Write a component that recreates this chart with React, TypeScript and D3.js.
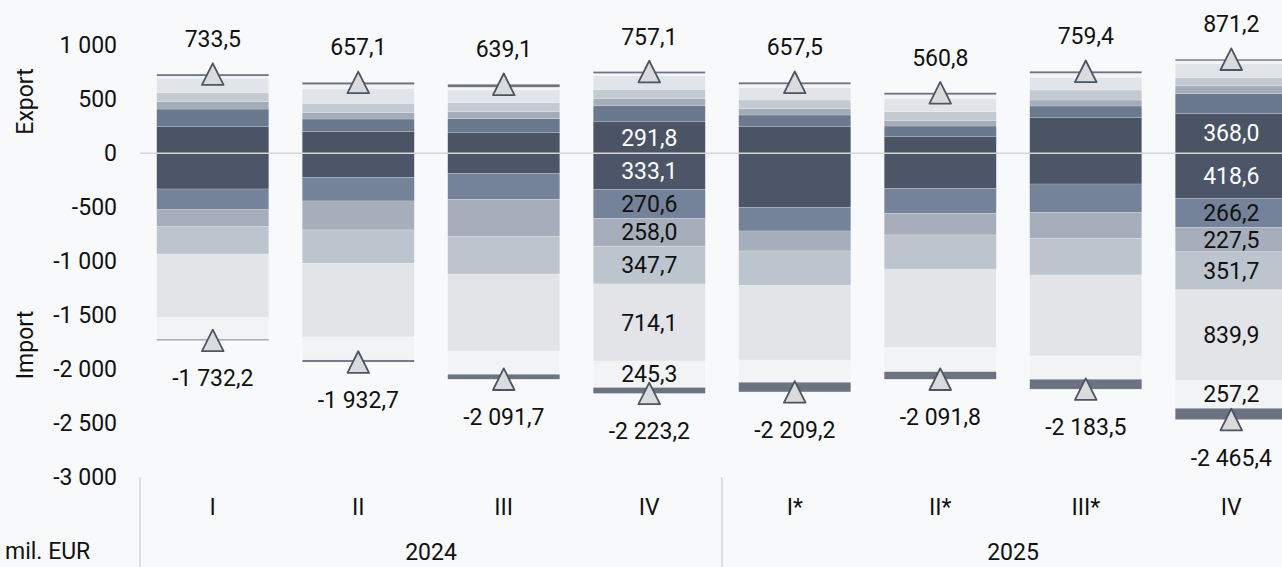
import React from "react";
import * as d3 from "d3";

// ---------- data ----------
const quarters = ["I", "II", "III", "IV", "I*", "II*", "III*", "IV"];
const years = ["2024", "2025"];
const quartersPerYear = 4;

const exportTotal = [733.5, 657.1, 639.1, 757.1, 657.5, 560.8, 759.4, 871.2];
const importTotal = [-1732.2, -1932.7, -2091.7, -2223.2, -2209.2, -2091.8, -2183.5, -2465.4];

// export components, stacked upward from zero
const exportG1 = [246.0, 200.0, 190.7, 291.8, 246.3, 153.7, 329.6, 368.0];
const exportG2 = [164.0, 117.6, 129.6, 148.0, 108.3, 99.0, 108.3, 185.2];
const exportG3 = [68.0, 58.0, 64.8, 68.5, 58.3, 49.0, 55.6, 71.3];
const exportG4 = [83.0, 87.0, 83.3, 79.6, 80.6, 83.3, 92.6, 76.9];
const exportG5 = [133.0, 139.0, 117.6, 129.6, 113.9, 124.0, 117.6, 129.6];
const exportG6 = [21.0, 35.0, 26.0, 22.0, 31.5, 33.3, 37.0, 25.0];
const exportG7 = [18.5, 20.5, 27.1, 17.6, 18.6, 18.5, 18.7, 15.2];

// import components, stacked downward from zero
const importG1 = [330.6, 222.0, 185.2, 333.1, 500.0, 324.0, 284.3, 418.6];
const importG2 = [191.7, 219.4, 240.7, 270.6, 219.4, 231.5, 262.0, 266.2];
const importG3 = [157.4, 268.5, 346.3, 258.0, 185.2, 201.0, 240.7, 227.5];
const importG4 = [252.8, 308.3, 345.4, 347.7, 317.6, 314.8, 339.8, 351.7];
const importG5 = [589.8, 682.4, 713.0, 714.1, 691.7, 728.7, 750.0, 839.9];
const importG6 = [200.0, 213.0, 215.7, 245.3, 206.5, 222.2, 215.7, 257.2];
const importG7 = [9.9, 19.1, 45.4, 54.4, 88.8, 69.6, 91.0, 104.3];

const yTicks = [1000, 500, 0, -500, -1000, -1500, -2000, -2500, -3000];
const labeledBars = [3, 7];

// ---------- styles ----------
const exportColors = ["#4a5464", "#6a798e", "#a3adb9", "#c4cad2", "#e1e4e8", "#f3f4f6", "#6b7280"];
const importColors = ["#4c5668", "#75839a", "#a5aeba", "#bcc4cd", "#e2e4e8", "#f2f3f4", "#6b7280"];
const labelColorsInside = ["#ffffff", "#111111", "#111111", "#111111", "#111111", "#111111", "#111111"];
const exportSeries = [exportG1, exportG2, exportG3, exportG4, exportG5, exportG6, exportG7];
const importSeries = [importG1, importG2, importG3, importG4, importG5, importG6, importG7];

const W = 1282;
const H = 567;
const FONT = "Roboto, 'Noto Sans', sans-serif";
const FS = 23;

const locale = d3.formatLocale({
  decimal: ",",
  thousands: " ",
  grouping: [3],
  currency: ["", " €"],
  minus: "-",
});
const fmt1 = locale.format(",.1f");
const fmt0 = locale.format(",d");

export default function App() {
  const x = d3
    .scaleBand<number>()
    .domain(d3.range(quarters.length))
    .range([140, 1304])
    .paddingInner(0.23)
    .paddingOuter(0.115);
  const y = d3.scaleLinear().domain([-3000, 1000]).range([477.3, 45.3]);

  const yearScale = d3.scaleBand<string>().domain(years).range([140, 1304]).padding(0);

  const segs: any[] = [];
  const labels: any[] = [];
  quarters.forEach((_, i) => {
    let acc = 0;
    exportSeries.forEach((s, k) => {
      const y0 = acc;
      const y1 = acc + s[i];
      acc = y1;
      segs.push({ i, k, y0, y1, color: exportColors[k], key: `e${i}-${k}` });
      if (labeledBars.includes(i) && s[i] >= 200 && k < 6) {
        labels.push({ i, v: s[i], ym: (y0 + y1) / 2, color: labelColorsInside[k], key: `le${i}-${k}` });
      }
    });
    acc = 0;
    importSeries.forEach((s, k) => {
      const y0 = acc;
      const y1 = acc - s[i];
      acc = y1;
      segs.push({ i, k, y0, y1, color: importColors[k], key: `i${i}-${k}` });
      if (labeledBars.includes(i) && s[i] >= 200 && k < 6) {
        labels.push({ i, v: s[i], ym: (y0 + y1) / 2, color: labelColorsInside[k], key: `li${i}-${k}` });
      }
    });
  });

  const tri = (cx: number, cy: number) => {
    const p = d3.path();
    p.moveTo(cx, cy - 10.8);
    p.lineTo(cx + 10.8, cy + 10.8);
    p.lineTo(cx - 10.8, cy + 10.8);
    p.closePath();
    return p.toString();
  };

  const bw = x.bandwidth();

  return (
    <>
      <style>{`body{margin:0;background:#f8f9fb;}`}</style>
      <svg width={W} height={H} style={{ display: "block", background: "#f8f9fb", overflow: "hidden" }} fontFamily={FONT}>
        {/* y tick labels */}
        {yTicks.map((t) => (
          <text key={t} x={117} y={y(t)} dy="0.35em" textAnchor="end" fontSize={FS} fill="#111">
            {fmt0(t)}
          </text>
        ))}
        <text transform={`translate(33,${y(480)}) rotate(-90)`} textAnchor="middle" fontSize={FS} fill="#111">
          Export
        </text>
        <text transform={`translate(33,${y(-1775)}) rotate(-90)`} textAnchor="middle" fontSize={FS} fill="#111">
          Import
        </text>

        {/* bars */}
        {segs.map((s) => (
          <rect
            key={s.key}
            x={x(s.i)}
            width={bw}
            y={Math.min(y(s.y0), y(s.y1))}
            height={Math.abs(y(s.y0) - y(s.y1))}
            fill={s.color}
            stroke="rgba(255,255,255,0.35)"
            strokeWidth={0.5}
          />
        ))}

        {/* zero line */}
        <line x1={140} x2={W} y1={y(0)} y2={y(0)} stroke="#d4d6da" strokeWidth={1.6} />

        {/* inside labels */}
        {labels.map((l) => (
          <text
            key={l.key}
            x={(x(l.i) as number) + bw / 2}
            y={y(l.ym)}
            dy="0.35em"
            textAnchor="middle"
            fontSize={FS}
            fill={l.color}
          >
            {fmt1(l.v)}
          </text>
        ))}

        {/* totals */}
        {quarters.map((_, i) => {
          const cx = (x(i) as number) + bw / 2;
          return (
            <g key={`t${i}`}>
              <path d={tri(cx, y(exportTotal[i]))} fill="#dadbdd" stroke="#4b5563" strokeWidth={1.8} strokeLinejoin="round" />
              <path d={tri(cx, y(importTotal[i]))} fill="#dadbdd" stroke="#4b5563" strokeWidth={1.8} strokeLinejoin="round" />
              <text x={cx} y={y(exportTotal[i]) - 35} dy="0.35em" textAnchor="middle" fontSize={FS} fill="#111">
                {fmt1(exportTotal[i])}
              </text>
              <text x={cx} y={y(importTotal[i]) + 38} dy="0.35em" textAnchor="middle" fontSize={FS} fill="#111">
                {fmt1(importTotal[i])}
              </text>
            </g>
          );
        })}

        {/* x axis */}
        {quarters.map((q, i) => (
          <text key={`q${i}`} x={(x(i) as number) + bw / 2} y={507} dy="0.35em" textAnchor="middle" fontSize={FS} fill="#111">
            {q}
          </text>
        ))}
        {years.map((yr) => (
          <text key={yr} x={(yearScale(yr) as number) + yearScale.bandwidth() / 2} y={552} dy="0.35em" textAnchor="middle" fontSize={FS} fill="#111">
            {yr}
          </text>
        ))}
        {d3.range(years.length + 1).map((j) => {
          const xx = 140 + j * quartersPerYear * x.step();
          return <line key={`sep${j}`} x1={xx} x2={xx} y1={477.3} y2={H} stroke="#d4d6da" strokeWidth={1.6} />;
        })}
        <text x={5} y={551} dy="0.35em" fontSize={FS} fill="#111">
          mil. EUR
        </text>
      </svg>
    </>
  );
}
